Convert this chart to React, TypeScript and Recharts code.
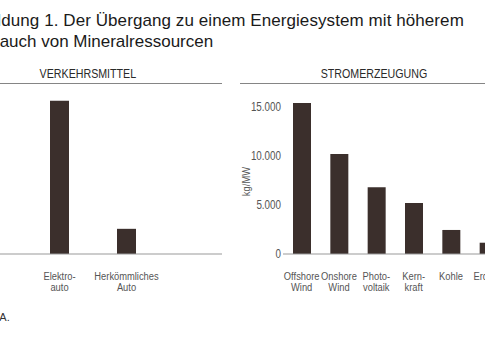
import { Bar, BarChart, XAxis, YAxis, Label } from "recharts";

const transportCategories = ["Elektro-\nauto", "Herkömmliches\nAuto"];
const transportValues = [207, 34];

const powerCategories = [
  "Offshore\nWind",
  "Onshore\nWind",
  "Photo-\nvoltaik",
  "Kern-\nkraft",
  "Kohle",
  "Erdgas",
];
const powerValues = [15400, 10200, 6800, 5200, 2450, 1150];
const powerTicks = [0, 5000, 10000, 15000];

const BAR = "#3b2f2c";
const FONT = "'Liberation Sans', Arial, sans-serif";
const GREY = "#555";
// no condensed face installed, so squeeze the glyphs horizontally
const NARROW = 0.82;

const transportData = transportCategories.map((name, i) => ({ name, value: transportValues[i] }));
const powerData = powerCategories.map((name, i) => ({ name, value: powerValues[i] }));

const fmt = (v: number) => String(v).replace(/\B(?=(\d{3})+(?!\d))/g, ".");

const squeeze = (x: number, y = 0, k = NARROW) =>
  `translate(${x},${y}) scale(${k},1) translate(${-x},${-y})`;

function CatTick(props: any) {
  const { x, y, payload } = props;
  const lines = String(payload.value).split("\n");
  return (
    <text
      x={x}
      y={y + 26.5}
      textAnchor="middle"
      fontFamily={FONT}
      fontSize={11}
      fill={GREY}
      transform={squeeze(x, 0, 0.85)}
    >
      {lines.map((l, i) => (
        <tspan key={i} x={x} dy={i === 0 ? 0 : 11}>
          {l}
        </tspan>
      ))}
    </text>
  );
}

function ValueTick(props: any) {
  const { x, y, payload } = props;
  return (
    <text
      x={x}
      y={y}
      dy="0.355em"
      textAnchor="end"
      fontFamily={FONT}
      fontSize={12}
      fill={GREY}
      transform={squeeze(x)}
    >
      {fmt(payload.value)}
    </text>
  );
}

function PanelHeader({ left, width, text }: { left: number; width: number; text: string }) {
  return (
    <div
      style={{
        position: "absolute",
        left,
        top: 64,
        width,
        height: 19,
        borderBottom: "1px solid #858585",
        textAlign: "center",
      }}
    >
      <span
        style={{
          display: "inline-block",
          fontFamily: FONT,
          fontSize: 13,
          color: "#2a2a2a",
          lineHeight: "18px",
          transform: `scaleX(${NARROW})`,
          whiteSpace: "nowrap",
        }}
      >
        {text}
      </span>
    </div>
  );
}

const titleStyle = {
  position: "absolute" as const,
  fontFamily: FONT,
  fontSize: 17,
  color: "#1a1a1a",
  lineHeight: "21px",
  whiteSpace: "nowrap" as const,
};

export default function App() {
  return (
    <div
      style={{
        position: "fixed",
        left: 0,
        top: 0,
        width: 485,
        height: 360,
        overflow: "hidden",
        background: "#fff",
      }}
    >
      <div style={{ ...titleStyle, left: -37, top: 10, letterSpacing: 0.08 }}>
        Abbildung 1. Der Übergang zu einem Energiesystem mit höherem
      </div>
      <div style={{ ...titleStyle, left: -41, top: 31 }}>Verbrauch von Mineralressourcen</div>

      <PanelHeader left={-46} width={268} text="VERKEHRSMITTEL" />
      <PanelHeader left={240} width={267} text="STROMERZEUGUNG" />

      <div style={{ position: "absolute", left: -46, top: 0 }}>
        <BarChart width={268} height={320} data={transportData} margin={{ top: 97, right: 0, left: 0, bottom: 26 }}>
          <XAxis
            dataKey="name"
            height={40}
            padding={{ left: 72, right: 62 }}
            axisLine={{ stroke: "#999" }}
            tickLine={false}
            tickSize={0}
            tickMargin={0}
            interval={0}
            tick={<CatTick />}
          />
          <YAxis hide domain={[0, 212]} />
          <Bar dataKey="value" fill={BAR} barSize={19} isAnimationActive={false} />
        </BarChart>
      </div>

      <div style={{ position: "absolute", left: 240, top: 0 }}>
        <BarChart width={267} height={320} data={powerData} margin={{ top: 97, right: 0, left: 0, bottom: 26 }}>
          <XAxis
            dataKey="name"
            height={40}
            axisLine={{ stroke: "#999" }}
            tickLine={false}
            tickSize={0}
            tickMargin={0}
            interval={0}
            tick={<CatTick />}
          />
          <YAxis
            width={43}
            domain={[0, 16000]}
            ticks={powerTicks}
            axisLine={false}
            tickLine={false}
            tickSize={0}
            tickMargin={2}
            tick={<ValueTick />}
          >
            <Label
              content={(p: any) => {
                const vb = p.viewBox;
                const cx = vb.x + 6;
                const cy = vb.y + vb.height / 2 + 6;
                return (
                  <text
                    x={cx}
                    y={cy}
                    transform={`rotate(-90, ${cx}, ${cy}) ${squeeze(cx, cy)}`}
                    textAnchor="middle"
                    dominantBaseline="central"
                    fontFamily={FONT}
                    fontSize={11.5}
                    fill={GREY}
                  >
                    kg/MW
                  </text>
                );
              }}
            />
          </YAxis>
          <Bar dataKey="value" fill={BAR} barSize={18} isAnimationActive={false} />
        </BarChart>
      </div>

      <div
        style={{
          position: "absolute",
          left: -49,
          top: 311,
          fontFamily: FONT,
          fontSize: 11,
          color: "#333",
          whiteSpace: "nowrap",
        }}
      >
        Quelle: IEA.
      </div>
    </div>
  );
}
